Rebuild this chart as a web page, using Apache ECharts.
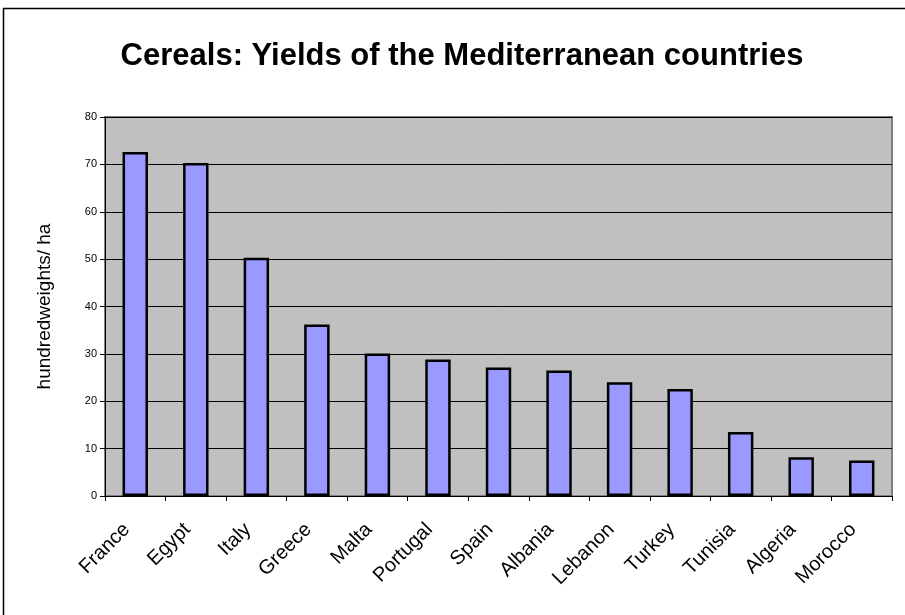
<!DOCTYPE html>
<html>
<head>
<meta charset="utf-8">
<script src="https://cdn.jsdelivr.net/npm/echarts@6/dist/echarts.min.js"></script>
<style>html,body{margin:0;padding:0;background:#fff}#c{width:905px;height:615px}</style>
</head>
<body>
<div id="c"></div>
<script>
const categories = ['France','Egypt','Italy','Greece','Malta','Portugal','Spain','Albania','Lebanon','Turkey','Tunisia','Algeria','Morocco'];
const yields = [72.6, 70.3, 50.3, 36.2, 30.1, 28.8, 27.1, 26.5, 24.0, 22.6, 13.5, 8.2, 7.5];
const yTicks = [0, 10, 20, 30, 40, 50, 60, 70, 80];
const titleText = 'Cereals: Yields of the Mediterranean countries';
const yAxisName = 'hundredweights/ ha';

const chart = echarts.init(document.getElementById('c'), null, {renderer: 'canvas'});
const F = 'Liberation Sans, Arial, sans-serif';
chart.setOption({
  animation: false,
  backgroundColor: '#ffffff',
  title: {
    text: titleText,
    left: 457, top: 36, textAlign: 'center',
    textStyle: {fontFamily: F, fontSize: 31, fontWeight: 'bold', color: '#000'}
  },
  grid: {left: 105, right: 13, top: 117, bottom: 119, show: true, backgroundColor: '#c0c0c0', borderColor: '#808080', borderWidth: 2},
  xAxis: {
    type: 'category', data: categories, boundaryGap: true,
    axisLine: {lineStyle: {color: '#000', width: 1}},
    axisTick: {show: true, alignWithLabel: false, length: 5, lineStyle: {color: '#000'}},
    axisLabel: {rotate: 45, fontFamily: F, fontSize: 20, color: '#000', margin: 22, padding: [0, 12, 0, 0], interval: 0},
    splitLine: {show: false}
  },
  yAxis: {
    type: 'value', min: yTicks[0], max: yTicks[yTicks.length - 1], interval: 10,
    name: yAxisName, nameLocation: 'middle', nameGap: 51, nameRotate: 90,
    nameTextStyle: {fontFamily: F, fontSize: 19, color: '#000'},
    axisLine: {show: true, lineStyle: {color: '#000', width: 1}},
    axisTick: {show: true, length: 5, lineStyle: {color: '#000'}},
    axisLabel: {fontFamily: F, fontSize: 11, color: '#000', margin: 8},
    splitLine: {show: true, lineStyle: {color: '#000', width: 1}}
  },
  series: [{
    type: 'bar', data: yields, barCategoryGap: '58%',
    itemStyle: {color: '#9999ff', borderColor: '#000', borderWidth: 2.5}
  }],
  graphic: [
    {type: 'line', shape: {x1: 3, y1: 8.5, x2: 905, y2: 8.5}, style: {stroke: '#000', lineWidth: 1.5}},
    {type: 'line', shape: {x1: 3.5, y1: 8, x2: 3.5, y2: 615}, style: {stroke: '#000', lineWidth: 1.5}}
  ]
});
</script>
</body>
</html>
